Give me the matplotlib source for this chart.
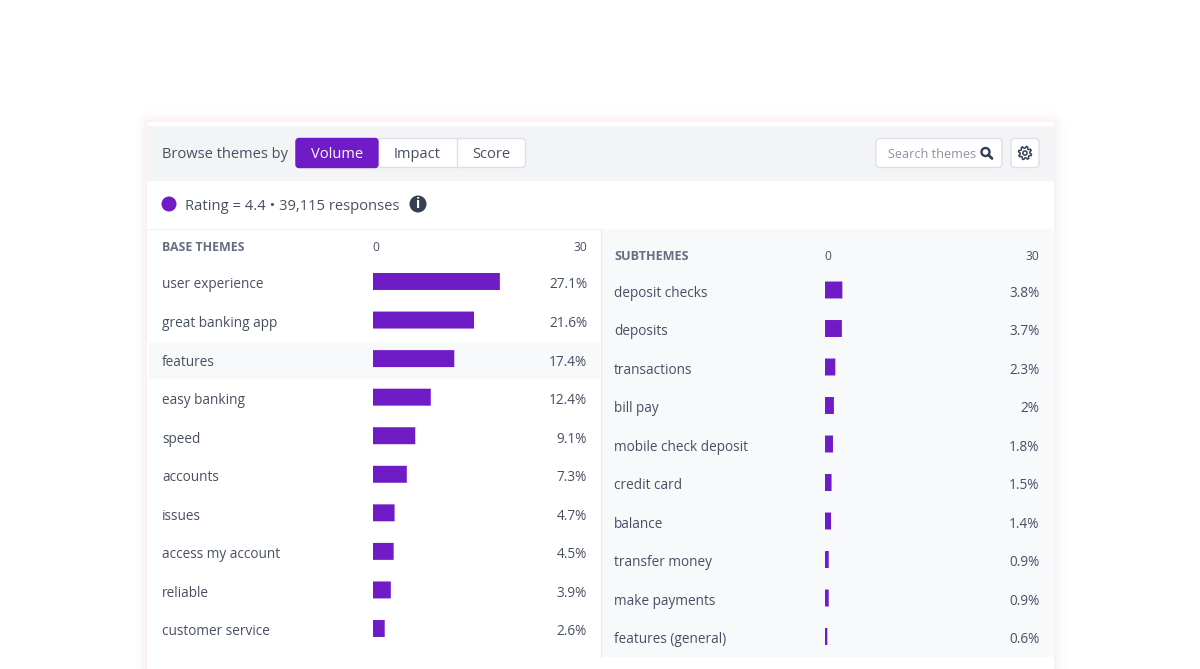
import numpy as np
import matplotlib
matplotlib.use('Agg')
import matplotlib.pyplot as plt
from matplotlib.patches import FancyBboxPatch, Rectangle, Circle, Polygon
from matplotlib.transforms import blended_transform_factory

plt.rcParams['font.family'] = ['Open Sans', 'DejaVu Sans']

base_themes = ['user experience', 'great banking app', 'features', 'easy banking', 'speed',
               'accounts', 'issues', 'access my account', 'reliable', 'customer service']
base_values = [27.1, 21.6, 17.4, 12.4, 9.1, 7.3, 4.7, 4.5, 3.9, 2.6]
base_labels = ['27.1%', '21.6%', '17.4%', '12.4%', '9.1%', '7.3%', '4.7%', '4.5%', '3.9%', '2.6%']

sub_themes = ['deposit checks', 'deposits', 'transactions', 'bill pay', 'mobile check deposit',
              'credit card', 'balance', 'transfer money', 'make payments', 'features (general)']
sub_values = [3.8, 3.7, 2.3, 2.0, 1.8, 1.5, 1.4, 0.9, 0.9, 0.6]
sub_labels = ['3.8%', '3.7%', '2.3%', '2%', '1.8%', '1.5%', '1.4%', '0.9%', '0.9%', '0.6%']

tabs = ['Volume', 'Impact', 'Score']

PURPLE = '#6f1bc6'
TEXT = '#474f63'
DARK = '#363f54'
W, H = 1200, 669

fig = plt.figure(figsize=(W / 100, H / 100), dpi=100, facecolor='white')
bg = fig.add_axes([0, 0, 1, 1])
bg.set_xlim(0, W)
bg.set_ylim(H, 0)
bg.axis('off')


def box(x, y, w, h, fc, ec='none', r=0, lw=1, z=1, alpha=None):
    if r:
        p = FancyBboxPatch((x, y), w, h, boxstyle='round,pad=0,rounding_size=%g' % r,
                           fc=fc, ec=ec, lw=lw, zorder=z, alpha=alpha)
    else:
        p = Rectangle((x, y), w, h, fc=fc, ec=ec, lw=lw, zorder=z, alpha=alpha)
    bg.add_patch(p)


# soft pink shadow round the card
for grow, a in zip([12, 9, 6, 4, 2], [0.02, 0.025, 0.03, 0.04, 0.05]):
    box(147 - grow, 122 - grow, 907 + 2 * grow, 600, '#e8b4c4', r=6 + grow, alpha=a)

box(147, 122, 907, 600, 'white', r=4, z=2)
box(147, 126, 907, 55, '#f3f4f6', z=3)
bg.plot([147, 1054], [228.5, 228.5], color='#f0f1f5', lw=0.8, zorder=3)
box(601, 229, 453, 428, '#f8f9fb', z=3)
bg.plot([600.5, 600.5], [229, 657], color='#e8eaef', lw=0.8, zorder=4)
box(149, 342, 451, 37, '#f8f9fb', z=3)

# toolbar
bg.text(162, 155, 'Browse themes by', fontsize=10.5, color=TEXT, va='center', zorder=6)
box(296, 138.5, 229.5, 29, 'white', ec='#dde0e7', r=4, z=5)
box(296, 138.5, 82, 29, PURPLE, ec=PURPLE, r=3, z=5)
bg.plot([456.5, 456.5], [139, 167], color='#dde0e7', lw=1, zorder=5)
for name, x, col in zip(tabs, [337, 417.5, 491], ['white', TEXT, TEXT]):
    bg.text(x, 155, name, fontsize=10.5, color=col, ha='center', va='center', zorder=6)

# search box and settings button
box(876, 138.5, 126, 29, 'white', ec='#dde0e7', r=4, z=5)
bg.text(887.5, 154.5, 'Search themes', fontsize=9.1, color='#8b93a7', va='center', zorder=6)
bg.add_patch(Circle((985.5, 152), 4, fc='none', ec=DARK, lw=1.7, zorder=6))
bg.plot([988.5, 992], [155, 158.5], color=DARK, lw=2, solid_capstyle='round', zorder=6)
box(1011, 138.5, 28, 29, 'white', ec='#dde0e7', r=4, z=5)

# gear outline
angles = np.linspace(0, 2 * np.pi, 33)[:-1] + np.pi / 16
radii = np.tile([6.6, 6.6, 4.9, 4.9], 8)
gear = np.column_stack([1025 + radii * np.cos(angles), 153 + radii * np.sin(angles)])
bg.add_patch(Polygon(gear, closed=True, fc='none', ec=DARK, lw=1.1, zorder=6))
bg.add_patch(Circle((1025, 153), 2.1, fc='none', ec=DARK, lw=1.1, zorder=6))

# rating line
bg.add_patch(Circle((169, 204), 7.5, fc=PURPLE, ec='none', zorder=6))
bg.text(185, 206, 'Rating = 4.4 \u2022 39,115 responses', fontsize=10.6, color=TEXT, va='center', zorder=6)
bg.add_patch(Circle((418, 204), 8.5, fc=DARK, ec='none', zorder=6))
bg.text(418, 204.5, 'i', fontsize=10, color='white', ha='center', va='center', weight='bold', zorder=7)


def panel(names, values, labels, title, title_size, x_text, x0, x1, y_head, y_first, y_last):
    step = (y_last - y_first) / 9
    ax = fig.add_axes([x0 / W, 1 - (y_last + step / 2) / H, (x1 - x0) / W, (y_last - y_first + step) / H],
                      zorder=5)
    ax.patch.set_alpha(0)
    ax.axis('off')
    ax.set_xlim(0, (x1 - x0) / 4.7)
    ax.set_ylim(9.5, -0.5)
    ax.barh(range(len(values)), values, height=0.44, color=PURPLE, snap=False)
    tr = blended_transform_factory(bg.transData, ax.transData)
    for i in range(len(names)):
        ax.text(x_text, i + 0.09, names[i], transform=tr, fontsize=9.8, color=TEXT, va='center')
        ax.text(x1, i + 0.09, labels[i], transform=tr, fontsize=9.8, color=TEXT, va='center', ha='right')
    bg.text(x_text, y_head, title, fontsize=title_size, color='#666e82', va='center', weight='bold', zorder=6)
    bg.text(x0 + 3, y_head, '0', fontsize=8.6, color=TEXT, va='center', ha='center', zorder=6)
    bg.text(x1, y_head, '30', fontsize=8.6, color=TEXT, va='center', ha='right', zorder=6)


panel(base_themes, base_values, base_labels, 'BASE THEMES', 8.9, 162, 372.5, 587, 247.5, 281.5, 628.5)
panel(sub_themes, sub_values, sub_labels, 'SUBTHEMES', 9.1, 614, 824.5, 1039.5, 256, 290, 636.5)

fig.savefig('out.png', dpi=100)
